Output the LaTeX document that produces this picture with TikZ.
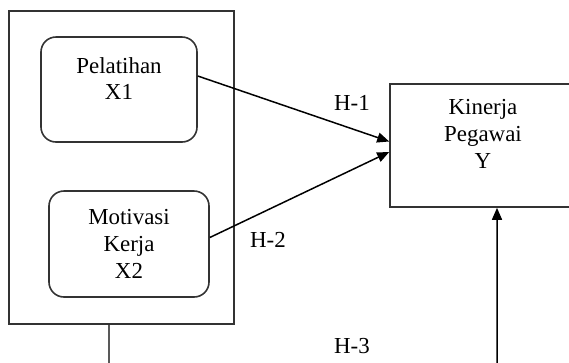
\documentclass[tikz,border=0pt]{standalone}
\usepackage{fontspec}
\setmainfont{Liberation Serif}
\usetikzlibrary{arrows.meta}
\begin{document}
\begin{tikzpicture}[x=0.5bp, y=-0.5bp, font=\fontsize{11.5}{13.5}\selectfont,
    kotak/.style={draw=black!80, line width=0.8pt, inner sep=0pt},
    bulat/.style={kotak, rounded corners=7.5bp},
    teks/.style={align=center},
    garis/.style={line width=0.75pt},
    panah/.style={garis, -{Triangle[length=6bp,width=5bp]}}]
        \clip (0,0) rectangle (569,362); % Batas gambar
        % Kotak besar (variabel bebas)
        \node[kotak, minimum width=112.5bp, minimum height=156.5bp] (bebas) at (121.5,167.5) {};
        % Pelatihan
        \node[bulat, minimum width=78bp, minimum height=52.5bp] (pelatihan) at (119,89.5) {};
        \node[teks] at (119,78.5) {Pelatihan\\X1};
        % Motivasi kerja
        \node[bulat, minimum width=80bp, minimum height=53bp] (motivasi) at (129,244) {};
        \node[teks] at (129,243.5) {Motivasi\\Kerja\\X2};
        % Kinerja pegawai
        \node[kotak, minimum width=93bp, minimum height=61.5bp] (kinerja) at (483,145.5) {};
        \node[teks] at (483,134) {Kinerja\\Pegawai\\Y};
        % Hipotesis
        \node (h1) at (352,103) {H-1};
        \node (h2) at (268,240) {H-2};
        \node (h3) at (352,346) {H-3};
        % Panah
        \draw[panah] ([yshift=6.75bp]pelatihan.east) -- ([yshift=2bp]kinerja.west);
        \draw[panah] ([yshift=3.25bp]motivasi.east) -- ([yshift=-3.25bp]kinerja.west);
        \coordinate (bawahX) at (109,370);
        \coordinate (bawahY) at (497,370);
        \draw[garis] ([xshift=-6.25bp]bebas.south) -- (bawahX);
        \draw[panah] (bawahY) -- ([xshift=7bp]kinerja.south);
    \end{tikzpicture}
\end{document}
